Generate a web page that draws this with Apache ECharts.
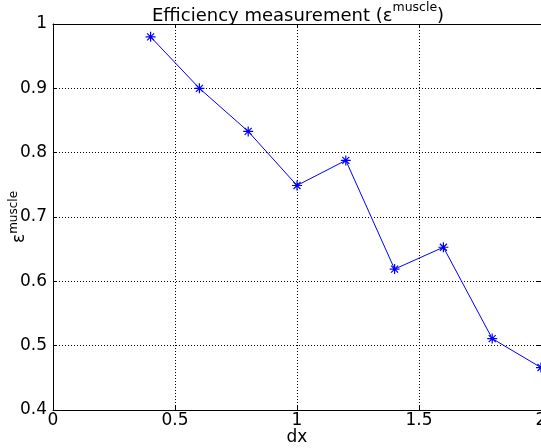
<!DOCTYPE html>
<html>
<head>
<meta charset="utf-8">
<script src="https://cdn.jsdelivr.net/npm/echarts@6/dist/echarts.min.js"></script>
<style>html,body{margin:0;padding:0;background:#fff;}#c{width:541px;height:448px;}</style>
</head>
<body>
<div id="c"></div>
<script>
const dxValues = [0.4, 0.6, 0.8, 1.0, 1.2, 1.4, 1.6, 1.8, 2.0];
const efficiency = [0.980, 0.900, 0.833, 0.749, 0.788, 0.619, 0.653, 0.511, 0.466];
const xTicks = [0, 0.5, 1, 1.5, 2];
const yTicks = [0.4, 0.5, 0.6, 0.7, 0.8, 0.9, 1];

const FONT = 'DejaVu Sans';
const chart = echarts.init(document.getElementById('c'), null, {renderer: 'canvas'});
const fmt = v => String(v);
const asterisk = 'path://M5,0L5,10M0,5L10,5M1.5,1.5L8.5,8.5M8.5,1.5L1.5,8.5';

const commonX = {
  type: 'value', min: xTicks[0], max: xTicks[xTicks.length - 1], interval: 0.5,
  axisLine: {show: true, onZero: false, lineStyle: {color: '#000', width: 1}},
  axisTick: {show: true, inside: true, length: 4, lineStyle: {color: '#000'}},
};
const commonY = {
  type: 'value', min: yTicks[0], max: yTicks[yTicks.length - 1], interval: 0.1,
  axisLine: {show: true, onZero: false, lineStyle: {color: '#000', width: 1}},
  axisTick: {show: true, inside: true, length: 4, lineStyle: {color: '#000'}},
};

chart.setOption({
  animation: false,
  backgroundColor: '#fff',
  title: {
    left: 152, top: 1, padding: 0,
    text: '{b|Efficiency measurement (ε}{s|muscle}{b|)}',
    textStyle: {
      fontWeight: 'normal',
      rich: {
        b: {fontFamily: FONT, fontSize: 18, fontWeight: 'normal', color: '#000', lineHeight: 24, verticalAlign: 'bottom'},
        s: {fontFamily: FONT, fontSize: 12.5, fontWeight: 'normal', color: '#000', lineHeight: 24, verticalAlign: 'top'}
      }
    }
  },
  grid: {left: 53, right: 0, top: 24, bottom: 38, containLabel: false, outerBoundsMode: 'none'},
  xAxis: [
    Object.assign({}, commonX, {
      position: 'bottom',
      name: 'dx', nameLocation: 'middle', nameGap: 19, nameMoveOverlap: false,
      nameTextStyle: {fontFamily: FONT, fontSize: 17, color: '#000'},
      axisLabel: {show: true, margin: 2, fontFamily: FONT, fontSize: 17, color: '#000', formatter: fmt, showMaxLabel: true, showMinLabel: true},
      splitLine: {show: true, lineStyle: {color: '#000', width: 1, type: [1, 2]}}
    }),
    Object.assign({}, commonX, {
      position: 'top', axisLabel: {show: false}, splitLine: {show: false}
    })
  ],
  yAxis: [
    Object.assign({}, commonY, {
      position: 'left',
      name: '{b|ε}{s|muscle}', nameLocation: 'middle', nameGap: 25, nameRotate: 90, nameMoveOverlap: false,
      nameTextStyle: {
        rich: {
          b: {fontFamily: FONT, fontSize: 17, color: '#000', lineHeight: 20, verticalAlign: 'bottom'},
          s: {fontFamily: FONT, fontSize: 12, color: '#000', lineHeight: 20, verticalAlign: 'top'}
        }
      },
      axisLabel: {show: true, margin: 6, fontFamily: FONT, fontSize: 17, color: '#000', formatter: fmt},
      splitLine: {show: true, lineStyle: {color: '#000', width: 1, type: [1, 2]}}
    }),
    Object.assign({}, commonY, {
      position: 'right', axisLabel: {show: false}, splitLine: {show: false}
    })
  ],
  series: [{
    type: 'line',
    data: dxValues.map((x, i) => [x, efficiency[i]]),
    xAxisIndex: 0, yAxisIndex: 0,
    symbol: asterisk, symbolSize: 10, showAllSymbol: true,
    lineStyle: {color: '#0000ff', width: 1},
    itemStyle: {color: '#0000ff', borderColor: '#0000ff', borderWidth: 1.2},
    clip: false
  }]
});
</script>
</body>
</html>
